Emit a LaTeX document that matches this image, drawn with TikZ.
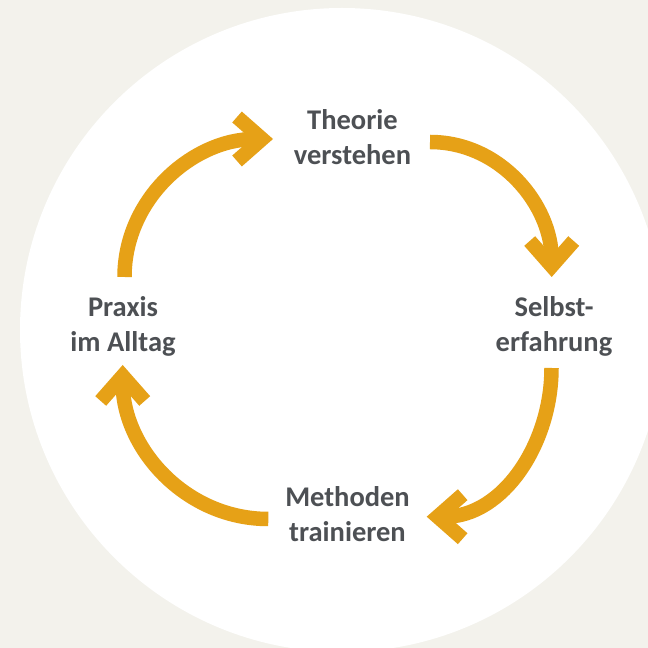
\documentclass[tikz,border=0pt]{standalone}
\usepackage{fontspec}
\setmainfont{Carlito}
\usetikzlibrary{arrows.meta}
\definecolor{ringorange}{RGB}{230,161,23}
\definecolor{labelgray}{RGB}{77,80,84}
\definecolor{paper}{RGB}{243,242,236}

\begin{document}
\begin{tikzpicture}[x=1pt,y=1pt,
                    cycle arrow/.style={draw=ringorange,line width=14.5pt,line cap=butt,-{Straight Barb[length=25pt,width=44pt]}},
                    main node/.style={font=\bfseries\fontsize{28.5}{35}\selectfont,text=labelgray,align=center,anchor=base,inner sep=0pt}]

  \fill[paper] (0,0) rectangle (648,648);
  \useasboundingbox (0,0) rectangle (648,648);
  \clip (0,0) rectangle (648,648);
  \fill[white] (342,318) circle (322);

  % base = last line
  \node[main node] (1) at (352.5,483) {Theorie\\verstehen};
  \node[main node] (2) at (554,296) {Selbst-\\erfahrung};
  \node[main node] (3) at (347.5,106.5) {Methoden\\trainieren};
  \node[main node] (4) at (123,296) {Praxis\\im Alltag};

  % ends of the arcs
  \coordinate (4a) at (124.5,371);
  \coordinate (1a) at (273,509);
  \coordinate (1b) at (430,506);
  \coordinate (2a) at (551.7,371);
  \coordinate (2b) at (551.5,280);
  \coordinate (3a) at (426.7,131.3);
  \coordinate (3b) at (268.3,129);
  \coordinate (4b) at (122.7,283);

  \path[every edge/.style={cycle arrow}]
    (4a) edge [out=90,in=180] (1a)
    (1b) edge [out=0,in=90] (2a)
    (2b) edge [out=-90,in=0] (3a)
    (3b) edge [out=180,in=-90] (4b);
\end{tikzpicture}
\end{document}
